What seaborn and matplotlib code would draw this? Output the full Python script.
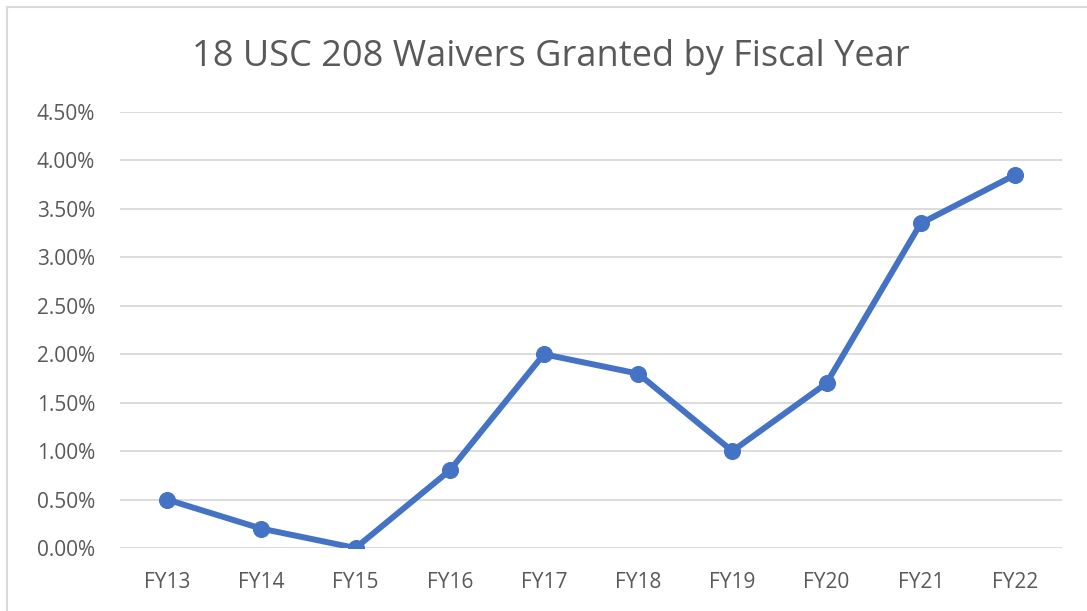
import seaborn as sns
import matplotlib.pyplot as plt
import matplotlib.patches as patches
import pandas as pd
from matplotlib.ticker import FuncFormatter, MultipleLocator

years = ['FY13', 'FY14', 'FY15', 'FY16', 'FY17', 'FY18', 'FY19', 'FY20', 'FY21', 'FY22']
pct_waivers = [0.50, 0.20, 0.00, 0.80, 2.00, 1.80, 1.00, 1.70, 3.35, 3.85]

df = pd.DataFrame({'year': years, 'pct': pct_waivers})

sns.set_style('white')
plt.rcParams['font.family'] = ['Open Sans', 'DejaVu Sans']

fig = plt.figure(figsize=(10.87, 6.11), dpi=100)
ax = fig.add_axes([0.1104, 0.1031, 0.8666, 0.7136])

# chart border (only left/top visible in the crop)
fig.patches.append(patches.Rectangle((7/1087, -0.1), 1.2, (611 - 7)/611 + 0.1,
                                     transform=fig.transFigure, fill=False,
                                     edgecolor='#D9D9D9', linewidth=1.5))

sns.lineplot(data=df, x='year', y='pct', ax=ax, color='#4472C4', linewidth=4.3,
             marker='o', markersize=11.5, markeredgecolor='#4472C4')

ax.set_xlim(-0.5, len(years) - 0.5)
ax.set_ylim(0, 4.5)
ax.yaxis.set_major_locator(MultipleLocator(0.5))
ax.yaxis.set_major_formatter(FuncFormatter(lambda v, p: f'{v:.2f}%'))
ax.grid(axis='y', color='#D9D9D9', linewidth=1.3)
ax.set_axisbelow(True)
for s in ax.spines.values():
    s.set_visible(False)
ax.tick_params(axis='both', length=0, labelsize=15, colors='#595959')
ax.tick_params(axis='x', pad=17)
ax.tick_params(axis='y', pad=18)
ax.set_xlabel('')
ax.set_ylabel('')

fig.text(551/1087, 1 - 57/611, '18 USC 208 Waivers Granted by Fiscal Year',
         ha='center', va='center', fontsize=26, color='#595959')

fig.savefig('out.png', dpi=100)
